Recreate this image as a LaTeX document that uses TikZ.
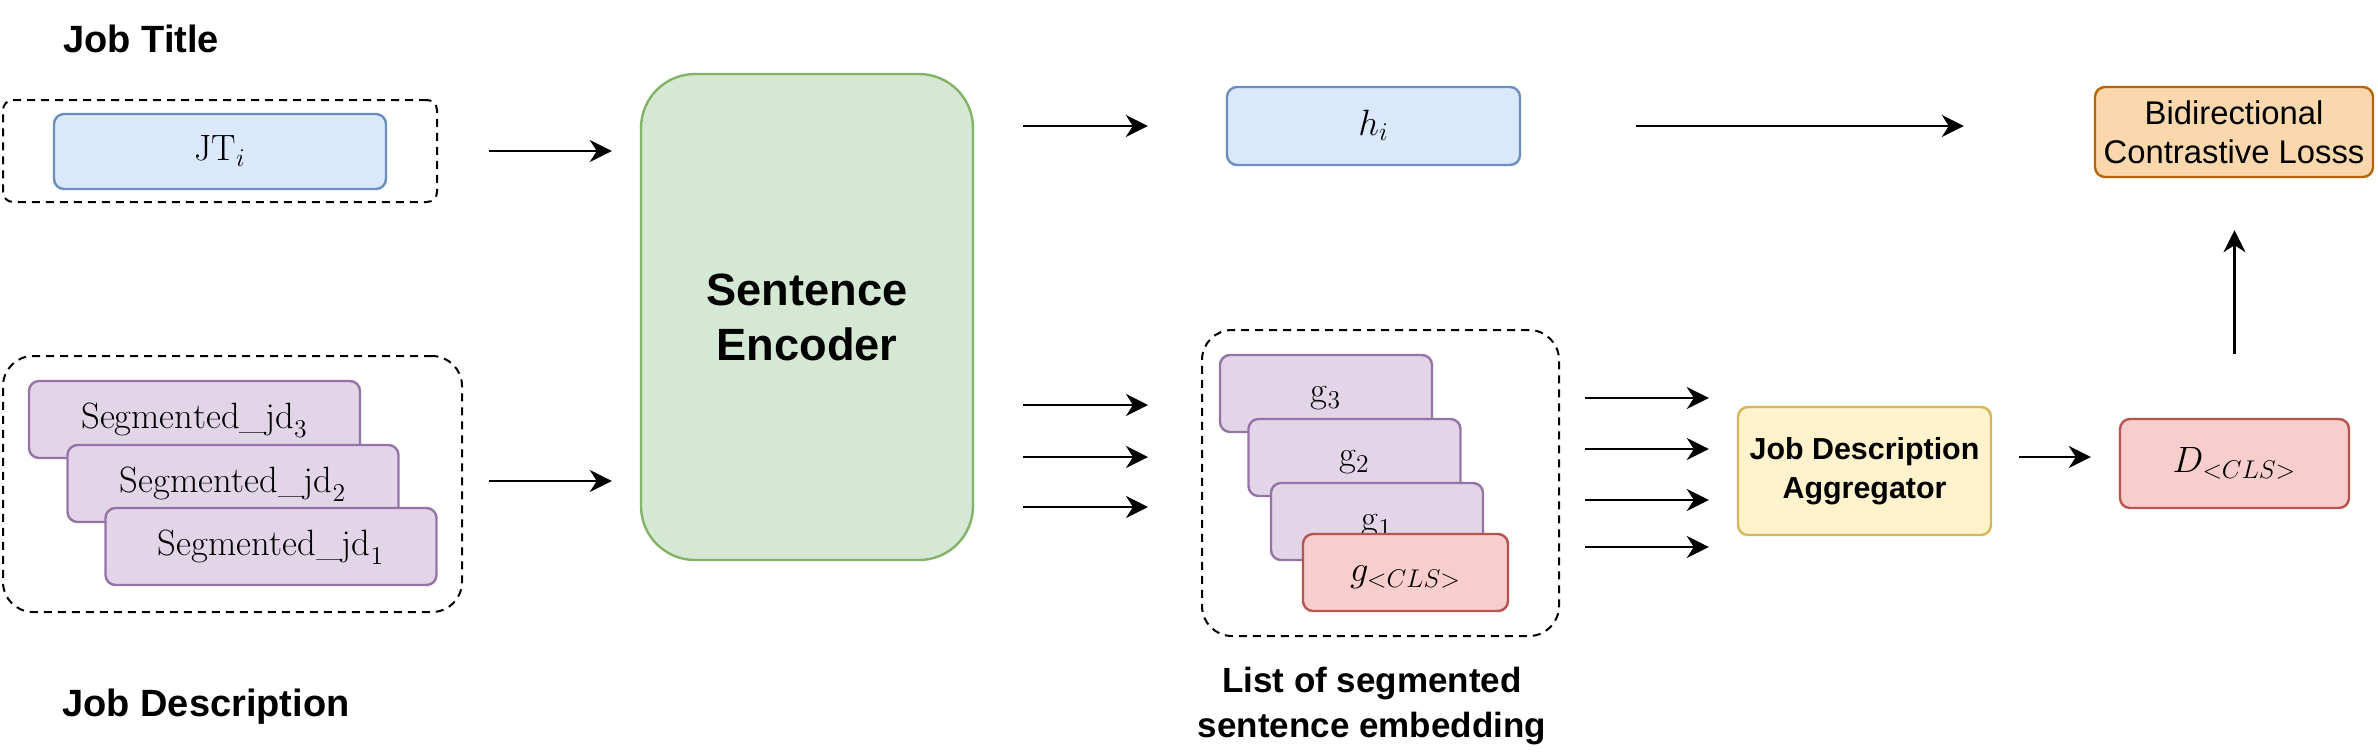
\documentclass[tikz,border=0pt]{standalone}
\usepackage{fix-cm}
\usepackage{fontspec}
\setsansfont{Liberation Sans}
\usetikzlibrary{arrows.meta}

\definecolor{bluefill}{HTML}{DAE8FC}
\definecolor{blueline}{HTML}{6C8EBF}
\definecolor{greenfill}{HTML}{D5E8D4}
\definecolor{greenline}{HTML}{82B366}
\definecolor{purplefill}{HTML}{E1D5E7}
\definecolor{purpleline}{HTML}{9673A6}
\definecolor{redfill}{HTML}{F8CECC}
\definecolor{redline}{HTML}{B85450}
\definecolor{yellowfill}{HTML}{FFF2CC}
\definecolor{yellowline}{HTML}{D6B656}
\definecolor{orangefill}{HTML}{FAD7AC}
\definecolor{orangeline}{HTML}{B46504}

\tikzset{
  box/.style={draw, rounded corners=5pt, line width=1.2pt, inner sep=0pt,
    font=\fontsize{18.3}{22}\selectfont},
  mathbox/.style={box, text height=13.7pt, text depth=4.6pt},
  bluebox/.style={mathbox, fill=bluefill, draw=blueline},
  segbox/.style={mathbox, fill=purplefill, draw=purpleline,
    minimum width=165.5pt, minimum height=38.5pt},
  gbox/.style={mathbox, fill=purplefill, draw=purpleline,
    minimum width=106pt, minimum height=38.5pt},
  redbox/.style={mathbox, fill=redfill, draw=redline},
  group/.style={draw, dash pattern=on 4pt off 3pt, line width=1pt, inner sep=0pt},
  title/.style={font=\sffamily\bfseries\fontsize{19}{23}\selectfont, inner sep=0pt},
  arr/.style={-{Stealth[length=11pt,width=11pt,inset=3.5pt]}, line width=1.4pt}
}

\begin{document}
\begin{tikzpicture}[x=.5pt, y=-.5pt]
  \useasboundingbox (0,0) rectangle (2378,752);

  % job title side
  \node[title, anchor=base west] (jtlabel) at (63,52) {Job Title};
  \node[group, rounded corners=5pt, minimum width=217pt, minimum height=51pt] (jtgroup) at (220,151) {};
  \node[bluebox, minimum width=166pt, minimum height=37.5pt] (jt) at (220,151.5) {$\mathrm{JT}_i$};

  % job description side
  \node[group, rounded corners=15pt, minimum width=229.5pt, minimum height=128pt] (jdgroup) at (232.5,484) {};
  \node[segbox] (seg3) at (194.5,419.5) {$\mathrm{Segmented\_jd}_3$};
  \node[segbox] (seg2) at (233,483.5) {$\mathrm{Segmented\_jd}_2$};
  \node[segbox] (seg1) at (271,546.5) {$\mathrm{Segmented\_jd}_1$};
  \node[title, anchor=base west] (jdlabel) at (62,716) {Job Description};

  % encoder
  \node[box, rounded corners=27pt, fill=greenfill, draw=greenline, minimum width=166pt, minimum height=243pt,
    align=center, font=\sffamily\bfseries\fontsize{22.6}{27.5}\selectfont] (enc) at (807,317) {Sentence\\Encoder};

  \draw[arr, shorten <=25.5pt, shorten >=14pt] (jtgroup.east) -- (jtgroup.east -| enc.west);
  \draw[arr, shorten <=13pt, shorten >=14pt] (jdgroup.east |- 0,481) -- (enc.west |- 0,481);

  % title embedding
  \node[bluebox, minimum width=146.5pt, minimum height=39pt] (h) at (1373.5,126) {$h_i$};
  \draw[arr, shorten <=24.5pt, shorten >=39pt] (enc.east |- h) -- (h.west);

  % list of segment embeddings
  \node[group, rounded corners=15pt, minimum width=178.5pt, minimum height=153pt] (lst) at (1380.5,483) {};
  \node[gbox] (g3) at (1326,393.5) {$\mathrm{g}_3$};
  \node[gbox] (g2) at (1354.5,457.5) {$\mathrm{g}_2$};
  \node[gbox] (g1) at (1377,521.5) {$\mathrm{g}_1$};
  \node[redbox, minimum width=102.5pt, minimum height=38.5pt] (gcls) at (1405.5,572.5) {$g_{<CLS>}$};
  \node[title, font=\sffamily\bfseries\fontsize{17.5}{22.5}\selectfont, align=center] (lstlabel) at (1372,706)
    {List of segmented\\sentence embedding};

  \foreach \y in {405,457,507}
    \draw[arr, shorten <=24.5pt, shorten >=26.5pt] (enc.east |- 0,\y) -- (lst.west |- 0,\y);

  % aggregation
  \node[box, fill=yellowfill, draw=yellowline, minimum width=126.5pt, minimum height=64pt, align=center,
    font=\sffamily\bfseries\fontsize{15.2}{19.5}\selectfont] (agg) at (1864.5,471) {Job Description\\Aggregator};
  \foreach \y in {398,449,500,547}
    \draw[arr, shorten <=12.5pt, shorten >=14pt] (lst.east |- 0,\y) -- (agg.west |- 0,\y);

  \node[redbox, minimum width=114.5pt, minimum height=44.5pt] (D) at (2234.5,463.5) {$D_{<CLS>}$};
  \draw[arr, shorten <=13.5pt, shorten >=14pt] (agg.east |- 0,457) -- (D.west |- 0,457);

  % loss
  \node[box, fill=orangefill, draw=orangeline, minimum width=139pt, minimum height=45pt, align=center,
    font=\sffamily\fontsize{16.4}{19.5}\selectfont] (loss) at (2234,132) {Bidirectional\\Contrastive Losss};
  \draw[arr, shorten <=57.5pt, shorten >=65pt] (h.east) -- (h.east -| loss.west);
  \draw[arr, shorten <=32pt, shorten >=26pt] (D.north) -- (D.north |- loss.south);
\end{tikzpicture}
\end{document}
